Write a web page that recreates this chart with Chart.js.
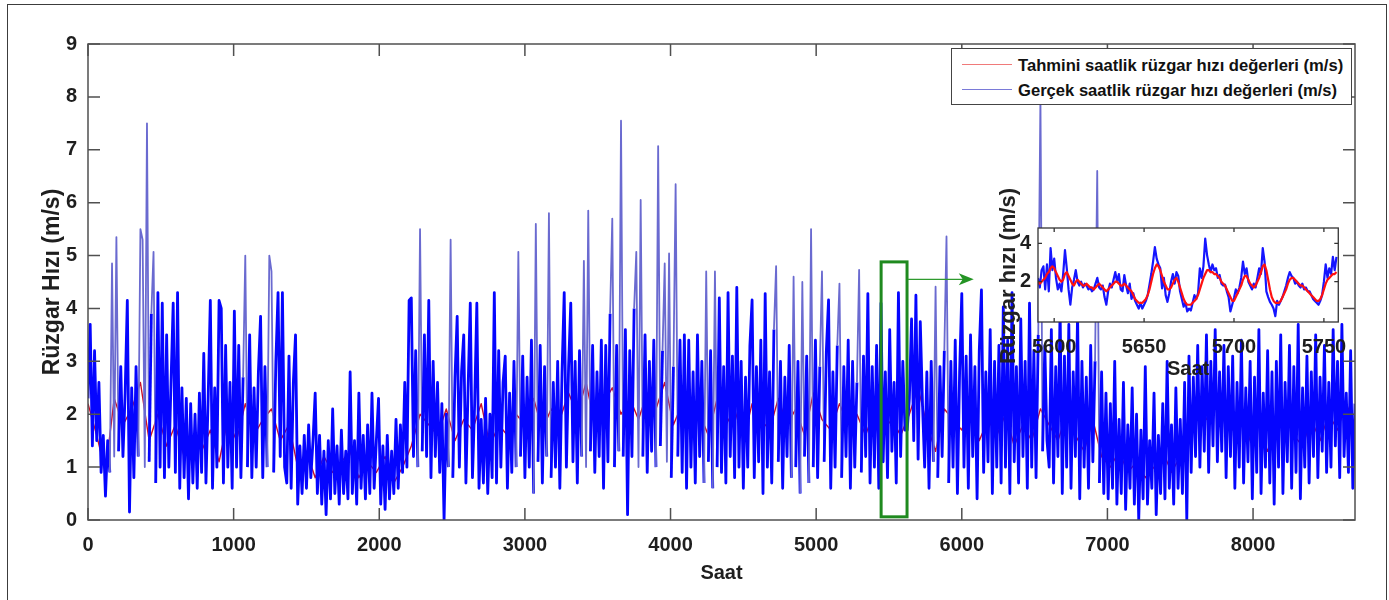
<!DOCTYPE html>
<html lang="tr">
<head>
<meta charset="utf-8">
<title>Rüzgar hızı</title>
<script src="https://cdn.jsdelivr.net/npm/chart.js@4.4.1/dist/chart.umd.min.js"></script>
<style>
  html, body { margin: 0; padding: 0; background: #fff; }
  body { position: relative; width: 1389px; height: 600px; overflow: hidden; font-family: "Liberation Sans", Arial, sans-serif; }
  #frame { position: absolute; left: 7px; top: 4px; width: 1380px; height: 640px; border: 1.5px solid #3c3c3c; box-sizing: border-box; }
  #mainChart { position: absolute; left: 0; top: 0; }
  #legend { position: absolute; left: 951px; top: 48px; width: 401px; height: 57px; box-sizing: border-box; border: 1px solid #444; background: #fff; }
  .row { position: absolute; left: 0; width: 100%; height: 20px; }
  .sample { position: absolute; left: 10px; top: 8px; width: 50px; height: 0; border-top: 1.5px solid; }
  .lbl { position: absolute; left: 66px; top: 0; font-weight: bold; font-size: 16.6px; line-height: 20px; color: #111; white-space: nowrap; }
  #insetChart { position: absolute; left: 990px; top: 180px; }
  #insetTitle { position: absolute; left: 1008px; top: 276px; transform: translate(-50%, -50%) rotate(-90deg); font-weight: bold; font-size: 22px; color: #222; white-space: nowrap; }
</style>
</head>
<body>
<canvas id="mainChart" width="1389" height="600"></canvas>
<div id="legend">
  <div class="row" style="top:7px"><div class="sample" style="border-color:#f07a7a"></div><div class="lbl">Tahmini saatlik rüzgar hızı değerleri (m/s)</div></div>
  <div class="row" style="top:32px"><div class="sample" style="border-color:#7a7ad8"></div><div class="lbl">Gerçek saatlik rüzgar hızı değerleri (m/s)</div></div>
</div>
<canvas id="insetChart" width="370" height="210"></canvas>
<div id="insetTitle">Rüzgar hızı (m/s)</div>
<div id="frame"></div>
<script>
// ana grafik: saatlik gercek degerler (15 saatte bir okunan)
const stepHours = 15;
const actual = [
  2.3,3.7,1.4,3.2,1.5,2.6,0.9,1.6,0.45,1.5,0.9,4.85,1.2,5.35,1.3,2.9,1.2,2.4,4.15,0.15,
  2.5,0.8,2.9,1.2,5.5,5.3,1.0,7.5,1.1,3.9,5.07,0.7,4.3,1.0,4.1,0.8,3.5,1.0,2.6,4.1,
  0.9,4.3,0.6,2.5,0.8,2.3,0.4,2.2,0.7,2.0,0.6,2.4,0.9,3.15,0.7,2.3,4.15,0.6,2.5,1.0,
  4.15,4.0,0.7,3.3,1.0,2.6,0.6,3.95,1.0,3.3,0.8,2.7,5.0,1.0,3.5,0.8,2.5,1.0,2.8,3.85,
  0.8,2.9,1.0,5.0,4.7,0.9,3.0,4.3,1.2,4.3,1.0,0.7,3.1,0.6,2.6,3.5,0.3,1.4,0.5,1.6,
  0.6,1.8,0.8,1.5,2.4,0.5,1.6,0.3,1.3,0.1,1.5,0.4,2.1,0.5,1.4,0.3,1.7,0.5,1.3,0.4,
  2.8,0.5,1.5,0.3,2.4,0.6,1.6,0.4,1.8,0.5,2.4,0.6,1.5,2.3,0.3,1.4,0.2,1.6,0.4,1.3,
  0.5,1.9,0.6,1.8,0.9,2.6,1.0,4.15,4.2,1.2,3.2,1.0,5.5,1.3,3.5,1.2,4.15,0.8,3.0,1.2,
  2.6,0.9,2.2,0.0,2.0,1.0,5.3,0.8,2.7,3.85,1.0,2.8,3.5,0.7,2.5,4.1,0.8,2.2,4.1,0.6,
  1.9,0.7,2.3,0.5,2.0,0.8,4.3,0.7,3.2,1.0,2.6,3.1,0.6,2.4,0.9,3.0,1.0,5.07,1.2,3.1,
  0.8,2.7,1.0,3.4,0.5,5.6,1.1,3.3,0.7,2.9,1.2,5.8,0.8,2.6,1.0,3.0,0.6,2.8,4.3,1.0,
  2.9,4.1,1.1,3.0,0.7,3.2,1.2,4.9,1.0,5.85,1.3,3.3,0.9,2.8,1.2,3.4,0.6,3.3,1.1,3.9,
  5.7,1.0,3.3,1.3,7.55,1.2,3.6,0.1,3.2,1.2,4.0,5.07,1.0,6.05,1.2,3.5,0.9,3.0,1.3,3.4,
  1.0,7.07,1.4,3.2,4.85,1.1,5.04,0.8,2.9,6.35,1.2,3.4,0.9,3.5,0.6,3.4,1.0,2.8,0.7,3.5,
  1.2,3.0,0.7,4.7,1.1,3.2,0.6,4.7,1.0,4.2,0.9,2.9,0.7,4.3,1.2,3.1,0.8,4.4,1.0,3.0,
  0.6,2.7,1.0,3.3,4.16,0.8,2.9,1.1,3.4,0.5,4.28,1.0,2.8,0.7,3.6,4.8,1.1,3.0,0.6,2.7,
  1.2,3.3,0.8,4.6,1.0,3.0,0.5,4.5,1.2,3.1,0.7,5.5,1.0,3.4,0.8,2.9,4.7,1.1,3.2,4.16,
  0.6,2.8,1.0,3.3,4.47,0.8,2.9,1.2,3.4,0.6,3.0,1.0,2.6,4.73,0.9,3.1,1.2,4.28,0.7,2.9,
  1.0,3.3,0.6,4.1,1.1,2.8,0.8,3.6,1.3,2.6,0.7,4.3,1.2,3.0,1.7,1.7,2.3,3.8,1.5,4.25,
  1.15,3.75,2.2,1.0,2.8,0.6,3.0,1.1,4.41,0.8,2.9,1.2,3.2,5.36,0.7,3.0,1.0,3.4,0.5,2.8,
  4.28,1.0,3.1,0.6,3.5,1.2,2.9,0.4,3.2,4.35,0.9,2.8,1.1,3.6,0.5,3.0,1.0,3.3,0.7,4.03,
  1.0,3.4,0.5,4.3,1.1,2.9,0.7,3.8,1.2,3.0,0.6,4.1,1.0,3.2,0.8,3.5,8.0,1.3,3.3,1.5,
  1.0,3.6,0.7,2.9,1.2,4.0,0.5,3.1,1.0,3.7,0.6,2.8,1.2,3.9,0.4,3.0,1.0,2.7,0.6,3.3,
  1.1,3.0,6.6,0.7,2.8,0.5,2.4,0.4,2.2,0.6,3.0,0.3,1.9,0.5,2.6,0.2,1.8,0.6,2.5,0.3,
  2.0,0.0,1.7,0.4,2.9,0.3,1.5,0.6,2.4,0.1,1.6,0.5,2.2,0.4,3.0,0.6,1.8,0.3,2.5,0.6,
  1.9,0.5,2.6,0.0,3.1,0.9,2.7,1.2,3.3,1.0,2.9,1.3,3.5,0.9,3.0,1.4,3.6,1.1,2.8,1.3,
  3.3,0.8,2.9,1.2,3.1,0.6,2.6,1.0,3.4,0.7,2.5,1.1,3.0,0.4,2.7,0.9,3.6,0.5,2.4,1.0,
  3.2,0.7,2.8,0.3,3.0,1.0,3.5,0.5,2.6,1.1,3.3,0.6,2.9,0.9,3.7,0.4,2.5,1.0,3.1,0.7,
  2.8,1.2,3.5,0.8,2.7,1.3,3.3,0.9,2.6,1.0,3.6,1.4,3.0,0.8,3.7,1.2,2.4,0.9,3.2,0.6,
  2.2
];

// tahmin serisi (60 saatte bir)
const predStepHours = 60;
const predicted = [
  2.2,1.6,0.9,2.3,1.8,2.1,2.6,1.5,2.0,1.4,
  1.8,1.2,1.6,1.3,1.7,1.1,1.9,1.5,2.2,1.6,
  1.9,2.1,1.5,1.8,1.0,1.3,0.8,1.2,0.9,1.1,
  1.3,0.8,1.1,0.9,1.2,0.7,1.0,1.4,2.0,1.8,
  1.6,2.1,1.5,1.9,1.7,2.2,1.4,1.8,1.6,2.0,
  1.8,2.3,1.7,2.1,1.9,2.4,2.0,2.6,1.8,2.2,
  2.5,2.0,2.3,1.9,2.4,2.1,2.6,1.8,2.2,1.9,
  2.0,1.6,2.3,1.8,2.1,1.5,2.2,1.9,1.7,2.3,
  1.8,2.1,1.6,2.4,1.9,1.7,2.2,1.8,2.0,1.6,
  2.1,1.7,1.9,1.6,2.0,2.5,1.8,1.3,2.1,1.9,
  1.7,2.2,1.5,1.9,1.6,2.0,1.4,1.8,1.5,2.1,
  1.8,1.5,2.0,1.6,1.3,1.9,1.2,1.0,1.3,0.9,
  1.1,0.8,1.0,1.3,0.9,1.2,1.8,2.2,1.9,2.3,
  2.1,1.7,2.0,1.5,1.8,1.3,1.7,2.0,1.6,1.4,
  1.9,1.5,2.0,1.7,2.2,1.8
];

const hourTicks = [0, 1000, 2000, 3000, 4000, 5000, 6000, 7000, 8000];
const speedTicks = [0, 1, 2, 3, 4, 5, 6, 7, 8, 9];

// yakinlastirilmis bolge: 5591-5757 saat, saatlik
const insetStart = 5591;
const insetActual = [
  2.2,1.7,2.6,2.8,1.6,2.9,1.5,3.75,2.6,3.2,
  2.2,1.6,1.9,1.5,2.4,3.65,2.7,1.6,0.8,1.7,
  2.1,2.6,2.0,1.8,2.0,1.7,1.9,1.8,1.6,1.7,
  1.5,1.6,1.9,2.2,1.7,1.6,1.8,1.2,0.8,1.5,
  1.9,1.7,2.1,2.5,2.0,2.4,1.6,1.5,2.35,1.8,
  1.4,1.9,1.1,1.4,1.0,0.8,0.6,0.9,0.6,0.8,
  1.0,1.3,1.85,2.4,3.05,3.8,3.2,2.9,2.7,1.65,
  2.2,1.3,0.95,1.4,2.0,2.4,1.9,2.5,2.3,1.5,
  1.1,0.7,0.9,0.45,0.6,0.5,0.9,1.3,1.1,1.4,
  2.7,2.2,2.8,4.25,3.4,2.9,2.5,2.9,2.6,2.7,
  2.2,2.35,1.9,1.8,1.85,1.5,1.2,0.45,0.8,1.15,
  1.6,1.4,1.7,2.2,3.05,2.4,2.7,2.0,1.8,1.6,
  1.9,1.7,2.2,2.7,2.4,3.75,3.05,1.5,1.2,0.95,
  0.8,0.6,0.2,1.0,0.8,1.0,1.2,1.5,1.8,2.2,
  2.5,2.3,2.2,1.9,2.0,1.8,1.7,1.9,1.6,1.7,
  1.5,1.5,1.3,1.1,1.0,0.9,0.8,1.0,1.3,2.0,
  2.9,2.2,2.7,2.4,3.3,2.6,3.3
];
const insetPredicted = [
  2.0,1.9,2.0,2.1,2.2,2.4,2.5,2.7,2.8,2.7,
  2.5,2.3,2.1,2.0,2.1,2.4,2.5,2.3,2.1,1.9,
  1.8,2.0,2.1,2.0,1.9,1.8,1.8,1.9,1.8,1.7,
  1.7,1.6,1.7,1.8,1.9,1.8,1.7,1.6,1.5,1.6,
  1.7,1.8,1.9,2.0,2.0,1.9,1.8,1.8,1.9,1.8,
  1.7,1.6,1.5,1.3,1.1,1.0,0.9,0.9,0.9,1.0,
  1.1,1.3,1.6,2.0,2.4,2.7,2.9,2.8,2.6,2.3,
  2.0,1.8,1.6,1.6,1.7,1.9,2.1,2.2,2.0,1.7,
  1.4,1.1,0.9,0.8,0.8,0.8,0.9,1.0,1.1,1.3,
  1.6,1.9,2.2,2.4,2.6,2.6,2.5,2.5,2.4,2.4,
  2.3,2.2,2.0,1.9,1.8,1.6,1.4,1.2,1.0,1.0,
  1.2,1.4,1.6,1.8,2.1,2.3,2.3,2.1,1.9,1.8,
  1.7,1.8,2.0,2.2,2.5,2.8,2.9,2.6,2.1,1.6,
  1.2,1.0,0.9,0.9,0.9,1.0,1.2,1.4,1.6,1.9,
  2.1,2.2,2.2,2.1,2.0,1.9,1.8,1.8,1.7,1.6,
  1.5,1.4,1.3,1.2,1.1,1.0,1.0,1.1,1.3,1.6,
  1.9,2.1,2.2,2.3,2.4,2.4,2.5
];
const insetHourTicks = [5600, 5650, 5700, 5750];
const insetSpeedTicks = [2, 4];

// yesil kutu ve ok (veri biriminde)
const zoomBoxHours = [5446, 5624];
const zoomBoxSpeed = [0.06, 4.88];
const arrowEndHour = 6082;
const arrowSpeed = 4.55;

const FONT = "'Liberation Sans', Arial, sans-serif";
const TXT = '#1e1e1e';
const SPIKE_LEVEL = 4.4;   // ince/acik renkli gorunen tepeler

const toPoints = (values, start, step) => values.map((v, i) => ({ x: start + i * step, y: v }));
const plain = v => String(v);
const isSpike = c => Math.max(c.p0.parsed.y, c.p1.parsed.y) > SPIKE_LEVEL;

const boxTicks = {
  id: 'boxTicks',
  afterDatasetsDraw(chart, args, opts) {
    const { ctx, chartArea: a, scales: { x, y } } = chart;
    ctx.save();
    ctx.strokeStyle = opts.color;
    ctx.lineWidth = opts.width;
    ctx.strokeRect(a.left, a.top, a.right - a.left, a.bottom - a.top);
    ctx.beginPath();
    x.ticks.forEach(t => {
      const px = x.getPixelForValue(t.value);
      ctx.moveTo(px, a.bottom); ctx.lineTo(px, a.bottom - opts.len);
      ctx.moveTo(px, a.top); ctx.lineTo(px, a.top + opts.len);
    });
    y.ticks.forEach(t => {
      const py = y.getPixelForValue(t.value);
      ctx.moveTo(a.left, py); ctx.lineTo(a.left + opts.len, py);
      ctx.moveTo(a.right, py); ctx.lineTo(a.right - opts.len, py);
    });
    ctx.stroke();
    ctx.restore();
  }
};

const zoomMark = {
  id: 'zoomMark',
  afterDraw(chart) {
    const { ctx, scales: { x, y } } = chart;
    const l = x.getPixelForValue(zoomBoxHours[0]), r = x.getPixelForValue(zoomBoxHours[1]);
    const t = y.getPixelForValue(zoomBoxSpeed[1]), b = y.getPixelForValue(zoomBoxSpeed[0]);
    ctx.save();
    ctx.strokeStyle = '#1f8a1f';
    ctx.lineWidth = 3;
    ctx.strokeRect(l, t, r - l, b - t);
    const ay = y.getPixelForValue(arrowSpeed), ax = x.getPixelForValue(arrowEndHour);
    ctx.strokeStyle = '#2e9a2e';
    ctx.lineWidth = 1.2;
    ctx.beginPath(); ctx.moveTo(r + 1, ay); ctx.lineTo(ax - 10, ay); ctx.stroke();
    ctx.fillStyle = '#249424';
    ctx.beginPath();
    ctx.moveTo(ax, ay); ctx.lineTo(ax - 15, ay - 6); ctx.lineTo(ax - 11, ay); ctx.lineTo(ax - 15, ay + 6);
    ctx.closePath(); ctx.fill();
    ctx.restore();
  }
};

const whiteArea = {
  id: 'whiteArea',
  beforeDatasetsDraw(chart) {
    const { ctx, chartArea: a } = chart;
    ctx.save();
    ctx.fillStyle = '#fff';
    ctx.fillRect(a.left, a.top, a.right - a.left, a.bottom - a.top);
    ctx.restore();
  }
};

new Chart(document.getElementById('mainChart'), {
  type: 'line',
  data: {
    datasets: [
      { label: 'Tahmini saatlik rüzgar hızı değerleri (m/s)', data: toPoints(predicted, 0, predStepHours),
        borderColor: '#c8102a', borderWidth: 1.4, order: 1 },
      { label: 'Gerçek saatlik rüzgar hızı değerleri (m/s)', data: toPoints(actual, 0, stepHours),
        borderColor: '#0505ff', borderWidth: 2.8, order: 0,
        segment: {
          borderColor: c => isSpike(c) ? '#6a6ad0' : undefined,
          borderWidth: c => isSpike(c) ? 1.8 : undefined
        } }
    ]
  },
  options: {
    responsive: false,
    animation: false,
    events: [],
    layout: { padding: { left: 0, top: 44, right: 34, bottom: 0 } },
    elements: { point: { radius: 0 }, line: { tension: 0, fill: false, borderJoinStyle: 'round' } },
    plugins: {
      legend: { display: false },
      tooltip: { enabled: false },
      boxTicks: { len: 12, width: 1.5, color: '#505050' }
    },
    scales: {
      x: {
        type: 'linear', min: 0, max: 8700,
        grid: { display: false, drawTicks: false },
        border: { display: false },
        afterBuildTicks: s => { s.ticks = hourTicks.map(v => ({ value: v })); },
        afterFit: s => { s.height = 80; },
        ticks: { autoSkip: false, maxRotation: 0, padding: 13, color: TXT, callback: plain, font: { family: FONT, size: 20, weight: 'bold' } },
        title: { display: true, text: 'Saat', color: TXT, font: { family: FONT, size: 20, weight: 'bold' }, padding: { top: 0, bottom: 15 } }
      },
      y: {
        min: 0, max: 9,
        grid: { display: false, drawTicks: false },
        border: { display: false },
        afterBuildTicks: s => { s.ticks = speedTicks.map(v => ({ value: v })); },
        afterFit: s => { s.width = 88; },
        ticks: { padding: 11, color: TXT, callback: plain, font: { family: FONT, size: 20, weight: 'bold' } },
        title: { display: true, text: 'Rüzgar Hızı (m/s)', color: TXT, font: { family: FONT, size: 23, weight: 'bold' }, padding: { top: 39, bottom: 0 } }
      }
    }
  },
  plugins: [boxTicks, zoomMark]
});

new Chart(document.getElementById('insetChart'), {
  type: 'line',
  data: {
    datasets: [
      { label: 'Tahmini', data: toPoints(insetPredicted, insetStart, 1), borderColor: '#ff1010', borderWidth: 2.2, order: 0 },
      { label: 'Gerçek', data: toPoints(insetActual, insetStart, 1), borderColor: '#1515ff', borderWidth: 2.2, order: 1 }
    ]
  },
  options: {
    responsive: false,
    animation: false,
    events: [],
    layout: { padding: { left: 0, top: 48, right: 18, bottom: 0 } },
    elements: { point: { radius: 0 }, line: { tension: 0, fill: false, borderJoinStyle: 'round' } },
    plugins: {
      legend: { display: false },
      tooltip: { enabled: false },
      boxTicks: { len: 4, width: 1.3, color: '#333' }
    },
    scales: {
      x: {
        type: 'linear', min: 5591, max: 5758,
        grid: { display: false, drawTicks: false },
        border: { display: false },
        afterBuildTicks: s => { s.ticks = insetHourTicks.map(v => ({ value: v })); },
        afterFit: s => { s.height = 68; },
        ticks: { autoSkip: false, maxRotation: 0, padding: 13, color: TXT, callback: plain, font: { family: FONT, size: 20, weight: 'bold' } },
        title: { display: true, text: 'Saat', color: TXT, font: { family: FONT, size: 20, weight: 'bold' }, padding: { top: 0, bottom: 9 } }
      },
      y: {
        min: -0.1, max: 4.8,
        grid: { display: false, drawTicks: false },
        border: { display: false },
        afterBuildTicks: s => { s.ticks = insetSpeedTicks.map(v => ({ value: v })); },
        afterFit: s => { s.width = 48; },
        ticks: { padding: 7, color: TXT, callback: plain, font: { family: FONT, size: 20, weight: 'bold' } }
      }
    }
  },
  plugins: [whiteArea, boxTicks]
});
</script>
</body>
</html>
